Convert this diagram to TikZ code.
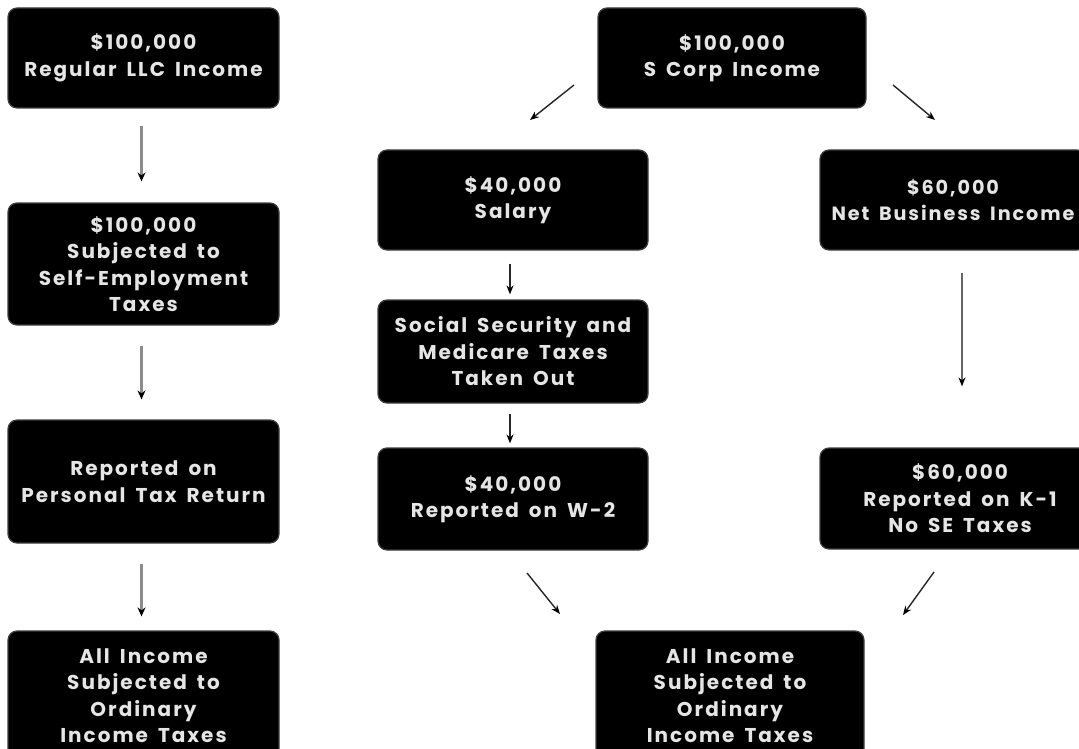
\documentclass[tikz,border=0pt]{standalone}
\usepackage{fontspec}
\setmainfont{Poppins}[LetterSpace=10,WordSpace=1.6]
\usetikzlibrary{arrows.meta}
\begin{document}
\begin{tikzpicture}[x=1pt,y=-1pt,
  box/.style={fill=black,draw=black!75,line width=1.2pt,rounded corners=9pt,
    text=white!90!black,align=center,inner sep=0pt,
    font=\fontsize{20}{26.5}\selectfont\bfseries},
  garrow/.style={draw=black!45,line width=2.2pt,-{Stealth[black,length=9pt,width=8pt]}},
  barrow/.style={draw=black!85,line width=1.4pt,-{Stealth[black,length=9pt,width=7pt]}}]
\clip (0,0) rectangle (1079,749);
\fill[white] (0,0) rectangle (1079,749);
% left column
\node[box,minimum width=271pt,minimum height=100pt] (L1) at (143.5,58) {\$100,000\\Regular LLC Income};
\node[box,minimum width=271pt,minimum height=122pt] (L2) at (143.5,264) {\$100,000\\Subjected to\\Self-Employment\\Taxes};
\node[box,minimum width=271pt,minimum height=123pt] (L3) at (143.5,481.5) {Reported on\\Personal Tax Return};
\node[box,minimum width=271pt,minimum height=129pt] (L4) at (143.5,695.5) {All Income\\Subjected to\\Ordinary\\Income Taxes};
\draw[garrow,shorten <=17pt,shorten >=21pt] ([xshift=-2pt]L1.south) -- ([xshift=-2pt]L2.north);
\draw[garrow,shorten <=20pt,shorten >=20pt] ([xshift=-2pt]L2.south) -- ([xshift=-2pt]L3.north);
\draw[garrow,shorten <=20pt,shorten >=14pt] ([xshift=-2pt]L3.south) -- ([xshift=-2pt]L4.north);
% middle and right
\node[box,minimum width=268pt,minimum height=100pt] (S) at (732,58) {\$100,000\\S Corp Income};
\node[box,minimum width=270pt,minimum height=100pt] (Sal) at (513,200) {\$40,000\\Salary};
\node[box,minimum width=266pt,minimum height=100pt,font=\fontsize{19.2}{26.5}\selectfont\bfseries] (Net) at (953,200) {\$60,000\\Net Business Income};
\node[box,minimum width=270pt,minimum height=103pt] (SS) at (513,351.5) {Social Security and\\Medicare Taxes\\Taken Out};
\node[box,minimum width=270pt,minimum height=102pt] (W2) at (513,499) {\$40,000\\Reported on W-2};
\node[box,minimum width=280pt,minimum height=101pt] (K1) at (960,498.5) {\$60,000\\Reported on K-1\\No SE Taxes};
\node[box,minimum width=268pt,minimum height=129pt] (B) at (730,695.5) {All Income\\Subjected to\\Ordinary\\Income Taxes};
\draw[barrow,shorten <=13pt,shorten >=5pt] ([xshift=-3pt]Sal.south) -- ([xshift=-3pt]SS.north);
\draw[barrow,shorten <=10pt,shorten >=4pt] ([xshift=-3pt]SS.south) -- ([xshift=-3pt]W2.north);
\draw[barrow,draw=black!60,shorten <=22pt,shorten >=61pt] ([xshift=9pt]Net.south) -- ([xshift=2pt]K1.north);
% diagonal arrows
\coordinate (d1a) at (574,85); \coordinate (d1b) at (530,120);
\coordinate (d2a) at (893,85); \coordinate (d2b) at (935,120);
\coordinate (d3a) at (527,573); \coordinate (d3b) at (560,614);
\coordinate (d4a) at (934,572); \coordinate (d4b) at (903,615);
\draw[barrow] (d1a) -- (d1b);
\draw[barrow] (d2a) -- (d2b);
\draw[barrow] (d3a) -- (d3b);
\draw[barrow] (d4a) -- (d4b);
\end{tikzpicture}
\end{document}
